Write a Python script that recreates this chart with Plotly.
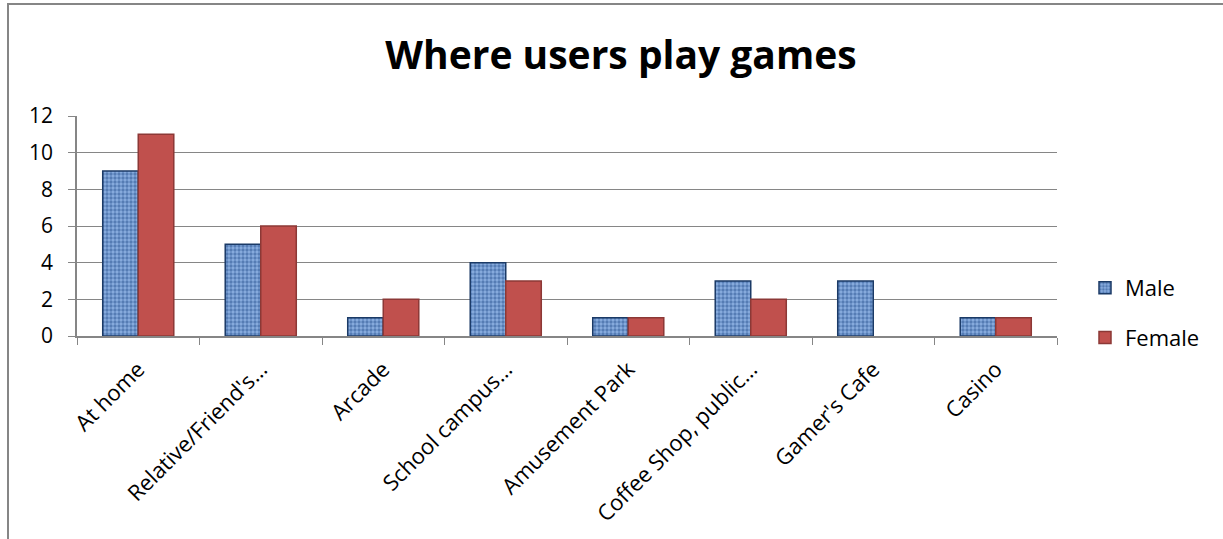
import plotly.graph_objects as go

# Survey counts by location and gender
locations = ["At home", "Relative/Friend's…", "Arcade", "School campus…",
             "Amusement Park", "Coffee Shop, public…", "Gamer's Cafe", "Casino"]
male = [9, 5, 1, 4, 1, 3, 3, 1]
female = [11, 6, 2, 3, 1, 2, 0, 1]

W, H = 1223, 539
L, R, T, B = 77, 166, 116, 203
pw, ph = W - L - R, H - T - B

font = "Open Sans, Lato, sans-serif"


def outline(values, w=1.5):
    # no outline on empty bars
    return [w if v else 0 for v in values]


fig = go.Figure()
fig.add_trace(go.Bar(
    x=locations, y=male, name="Male", legendgroup="m",
    marker=dict(
        color="#7FA3D8",
        line=dict(color="#1B3A66", width=outline(male)),
        pattern=dict(shape=".", fgcolor="#1F4A88", bgcolor="#8AAEE0",
                     size=4, solidity=0.55, fillmode="overlay"),
    ),
))
fig.add_trace(go.Bar(
    x=locations, y=female, name="Female", legendgroup="f",
    marker=dict(color="#C0504D", line=dict(color="#8C3836", width=outline(female))),
))


# chart frame (pixel -> paper coordinates)
def px_x(v):
    return (v - L) / pw


def px_y(v):
    return (H - B - v) / ph


fig.add_shape(type="rect", xref="paper", yref="paper",
              x0=px_x(8), x1=px_x(1240), y0=px_y(560), y1=px_y(4),
              line=dict(color="#868686", width=2), fillcolor="rgba(0,0,0,0)",
              layer="below")

fig.update_layout(
    width=W, height=H,
    margin=dict(l=L, r=R, t=T, b=B),
    paper_bgcolor="white", plot_bgcolor="white",
    barmode="group", bargap=0.42, bargroupgap=0,
    title=dict(text="<b>Where users play games</b>", x=px_x(621), xanchor="center",
               y=1 - 55 / H, yanchor="middle", xref="paper",
               font=dict(family=font, size=39, color="black")),
    font=dict(family=font, size=20, color="black"),
    legend=dict(x=px_x(1085), y=px_y(267), xanchor="left", yanchor="top",
                traceorder="grouped", tracegroupgap=18,
                font=dict(size=22), bgcolor="rgba(0,0,0,0)"),
    xaxis=dict(
        tickangle=-45, tickson="boundaries", ticks="outside", ticklen=7,
        tickcolor="#868686", showline=True, linecolor="#868686", linewidth=1.5,
        showgrid=False, tickfont=dict(size=22), ticklabelstandoff=10,
    ),
    yaxis=dict(
        range=[0, 12], dtick=2, ticks="outside", ticklen=7, tickcolor="#868686",
        showline=True, linecolor="#868686", linewidth=1.5,
        showgrid=True, gridcolor="#868686", gridwidth=1, zeroline=False,
        tickfont=dict(size=21), ticklabelstandoff=11,
    ),
)

fig.write_html("out.html")
